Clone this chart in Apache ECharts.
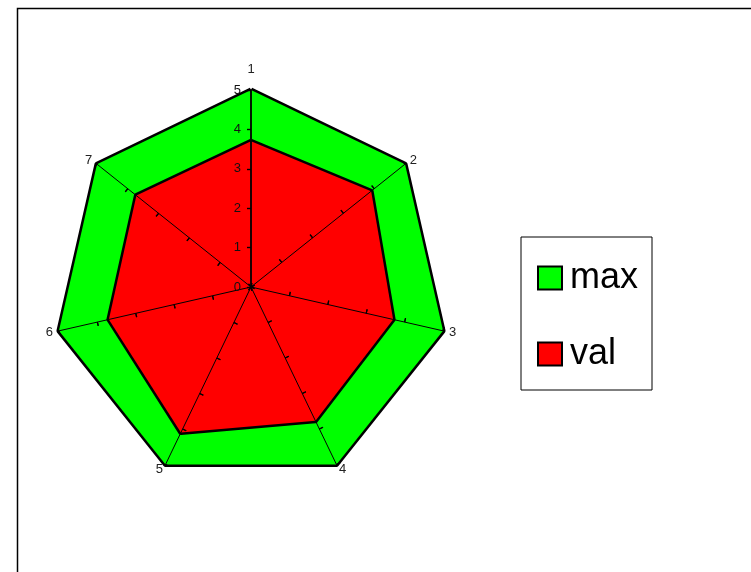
<!DOCTYPE html>
<html>
<head>
<meta charset="utf-8">
<script src="https://cdn.jsdelivr.net/npm/echarts@6/dist/echarts.min.js"></script>
<style>
html,body{margin:0;padding:0;background:#fff;}
#chart{width:751px;height:572px;}
</style>
</head>
<body>
<div id="chart"></div>
<script>
const categories = ['1', '2', '3', '4', '5', '6', '7'];
const maxValues = [5, 5, 5, 5, 5, 5, 5];
const valValues = [3.7, 3.9, 3.7, 3.77, 4.1, 3.7, 3.72];
const seriesNames = ['max', 'val'];
const axisMax = 5;

// ECharts lays radar indicators counter-clockwise; reorder to draw clockwise
const order = [0].concat(categories.map((c, i) => i).slice(1).reverse());
const reorder = arr => order.map(i => arr[i]);

const chart = echarts.init(document.getElementById('chart'), null, {renderer: 'canvas'});

const CENTER = [251, 287];
const RADIUS = 197;
const FONT = 'Liberation Sans, Arial, sans-serif';

function indicators(withLabels) {
  return order.map((idx, k) => {
    const o = {name: categories[idx], max: axisMax, min: 0};
    if (withLabels) {
      o.nameGap = k === 0 ? 14 : 6;
      if (k === 0) {
        o.axisLabel = {show: true};
        o.axisLine = {lineStyle: {width: 1.8}};
      }
    }
    return o;
  });
}

const option = {
  animation: false,
  backgroundColor: '#fff',
  graphic: [{
    type: 'rect',
    shape: {x: 17.5, y: 8.5, width: 900, height: 700},
    style: {fill: 'none', stroke: '#000', lineWidth: 1.5},
    silent: true
  }],
  legend: {
    data: seriesNames,
    orient: 'vertical',
    left: 521,
    top: 237,
    padding: [23, 14, 18, 16],
    itemWidth: 24,
    itemHeight: 23,
    itemGap: 40,
    icon: 'rect',
    borderColor: '#000',
    borderWidth: 1,
    backgroundColor: '#fff',
    itemStyle: {borderColor: '#000', borderWidth: 2},
    textStyle: {fontSize: 36, color: '#000', fontFamily: FONT, padding: [0, 0, 0, 3]}
  },
  radar: [{
    center: CENTER,
    radius: RADIUS,
    startAngle: 90,
    shape: 'polygon',
    splitNumber: 5,
    z: 5,
    indicator: indicators(true),
    axisName: {color: '#222', fontSize: 13, fontFamily: FONT},
    axisLine: {show: true, lineStyle: {color: '#000', width: 1}},
    axisTick: {show: true, length: 4, lineStyle: {color: '#000', width: 1.2}},
    axisLabel: {show: false, color: '#111', fontSize: 13, fontFamily: FONT, margin: 10},
    splitLine: {show: false},
    splitArea: {show: false}
  }, {
    center: CENTER,
    radius: RADIUS,
    startAngle: 90,
    shape: 'polygon',
    splitNumber: 5,
    z: 5,
    indicator: indicators(false),
    axisName: {show: false},
    axisLine: {show: false},
    axisTick: {show: true, inside: true, length: 4, lineStyle: {color: '#000', width: 1.2}},
    axisLabel: {show: false},
    splitLine: {show: false},
    splitArea: {show: false}
  }],
  series: [{
    type: 'radar',
    radarIndex: 0,
    symbol: 'none',
    silent: true,
    lineStyle: {color: '#000', width: 5},
    data: [{
      name: seriesNames[0],
      value: reorder(maxValues),
      itemStyle: {color: '#00ff00'},
      lineStyle: {color: '#000', width: 5},
      areaStyle: {color: '#00ff00', opacity: 1}
    }, {
      name: seriesNames[1],
      value: reorder(valValues),
      itemStyle: {color: '#ff0000'},
      lineStyle: {color: '#000', width: 5},
      areaStyle: {color: '#ff0000', opacity: 1}
    }]
  }]
};
chart.setOption(option);
</script>
</body>
</html>
